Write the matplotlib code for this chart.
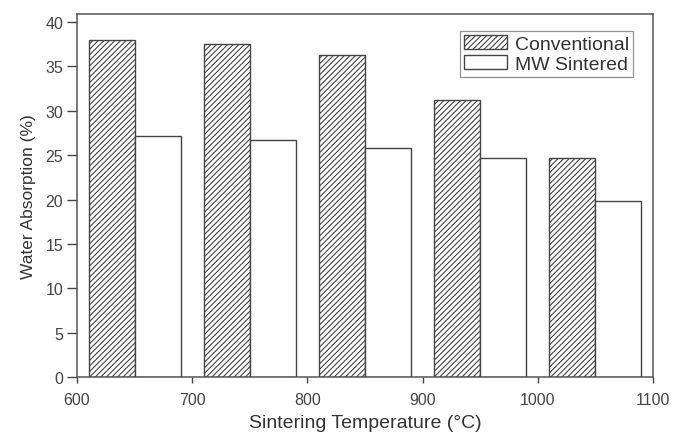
import numpy as np
import matplotlib
matplotlib.use("Agg")
import matplotlib.pyplot as plt

plt.rcParams["font.family"] = ["Liberation Sans", "DejaVu Sans"]
plt.rcParams["hatch.color"] = "#888888"
plt.rcParams["hatch.linewidth"] = 0.8

# Absorção de água por temperatura de sinterização
temperatura = [610, 710, 810, 910, 1010]
convencional = [38.0, 37.5, 36.3, 31.2, 24.7]
micro_ondas = [27.1, 26.7, 25.8, 24.7, 19.8]
largura = 40

fig = plt.figure(figsize=(6.73, 4.35), dpi=100)
ax = fig.add_axes([0.1144, 0.131, 0.8558, 0.8345])

x = np.array(temperatura)
ax.bar(x, convencional, width=largura, align="edge", color="white",
       edgecolor="#444444", linewidth=1.0, hatch="//////", label="Conventional")
ax.bar(x + largura, micro_ondas, width=largura, align="edge", color="white",
       edgecolor="#444444", linewidth=1.0, label="MW Sintered")

ax.set_xlim(600, 1100)
ax.set_ylim(0, 40.9)
ax.set_xticks([600, 700, 800, 900, 1000, 1100])
ax.set_yticks(range(0, 41, 5))
ax.tick_params(direction="out", width=1, labelsize=11.5,
               colors="#444444", labelcolor="#444444")
ax.tick_params(axis="x", length=4, pad=7)
ax.tick_params(axis="y", length=7, pad=3)
for s in ax.spines.values():
    s.set_color("#555555")
    s.set_linewidth(1.1)

ax.set_xlabel("Sintering Temperature (°C)", fontsize=14, color="#333333", labelpad=5)
ax.set_ylabel("Water Absorption (%)", fontsize=12.5, color="#333333", labelpad=7)

leg = ax.legend(loc="upper right", bbox_to_anchor=(0.965, 0.953), fontsize=14,
                frameon=True, fancybox=False, edgecolor="#777777",
                handlelength=2.2, handleheight=0.75, handletextpad=0.4,
                borderpad=0.2, labelspacing=0.1, borderaxespad=0.0)
leg.get_frame().set_linewidth(0.9)
for t in leg.get_texts():
    t.set_color("#333333")

fig.savefig("out.png", dpi=100)
